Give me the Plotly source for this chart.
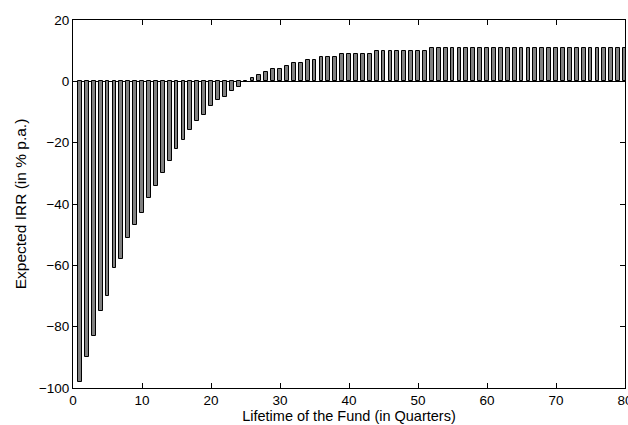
import plotly.graph_objects as go

quarters = list(range(1, 81))
irr = [-98, -90, -83, -75, -70, -61, -58, -51, -47, -43,
       -38, -34, -30, -26, -22, -19, -16, -13, -11, -8,
       -6, -5, -3, -2, -0.3, 1, 2, 3, 4, 4,
       5, 6, 6, 7, 7, 8, 8, 8, 9, 9,
       9, 9, 9, 10, 10, 10, 10, 10, 10, 10,
       10] + [11] * 29

x_ticks = [0, 10, 20, 30, 40, 50, 60, 70, 80]
y_ticks = [-100, -80, -60, -40, -20, 0, 20]

font_family = "Liberation Sans, Arial, sans-serif"

fig = go.Figure()
fig.add_trace(go.Bar(
    x=quarters, y=irr, width=0.55,
    marker=dict(color="#808080", line=dict(color="black", width=1)),
))

axis_common = dict(
    showline=True, linecolor="black", linewidth=1, mirror="ticks",
    ticks="inside", ticklen=5, tickcolor="black", tickwidth=1,
    showgrid=False, ticklabeloverflow="allow", automargin=False,
    tickfont=dict(family=font_family, size=13.5, color="black"),
)

fig.update_layout(
    width=628, height=425,
    margin=dict(l=73, r=3, t=20, b=37, autoexpand=False),
    plot_bgcolor="white", paper_bgcolor="white",
    showlegend=False, bargap=0,
    font=dict(family=font_family, color="black"),
    xaxis=dict(range=[0, 80], tickvals=x_ticks, zeroline=False,
               title=dict(text="Lifetime of the Fund (in Quarters)",
                          font=dict(family=font_family, size=14.5), standoff=2),
               **axis_common),
    yaxis=dict(range=[-100, 20], tickvals=y_ticks, zeroline=True,
               zerolinecolor="black", zerolinewidth=1,
               title=dict(text="Expected IRR (in % p.a.)",
                          font=dict(family=font_family, size=15.5), standoff=8),
               **axis_common),
)

fig.write_html("out.html")
